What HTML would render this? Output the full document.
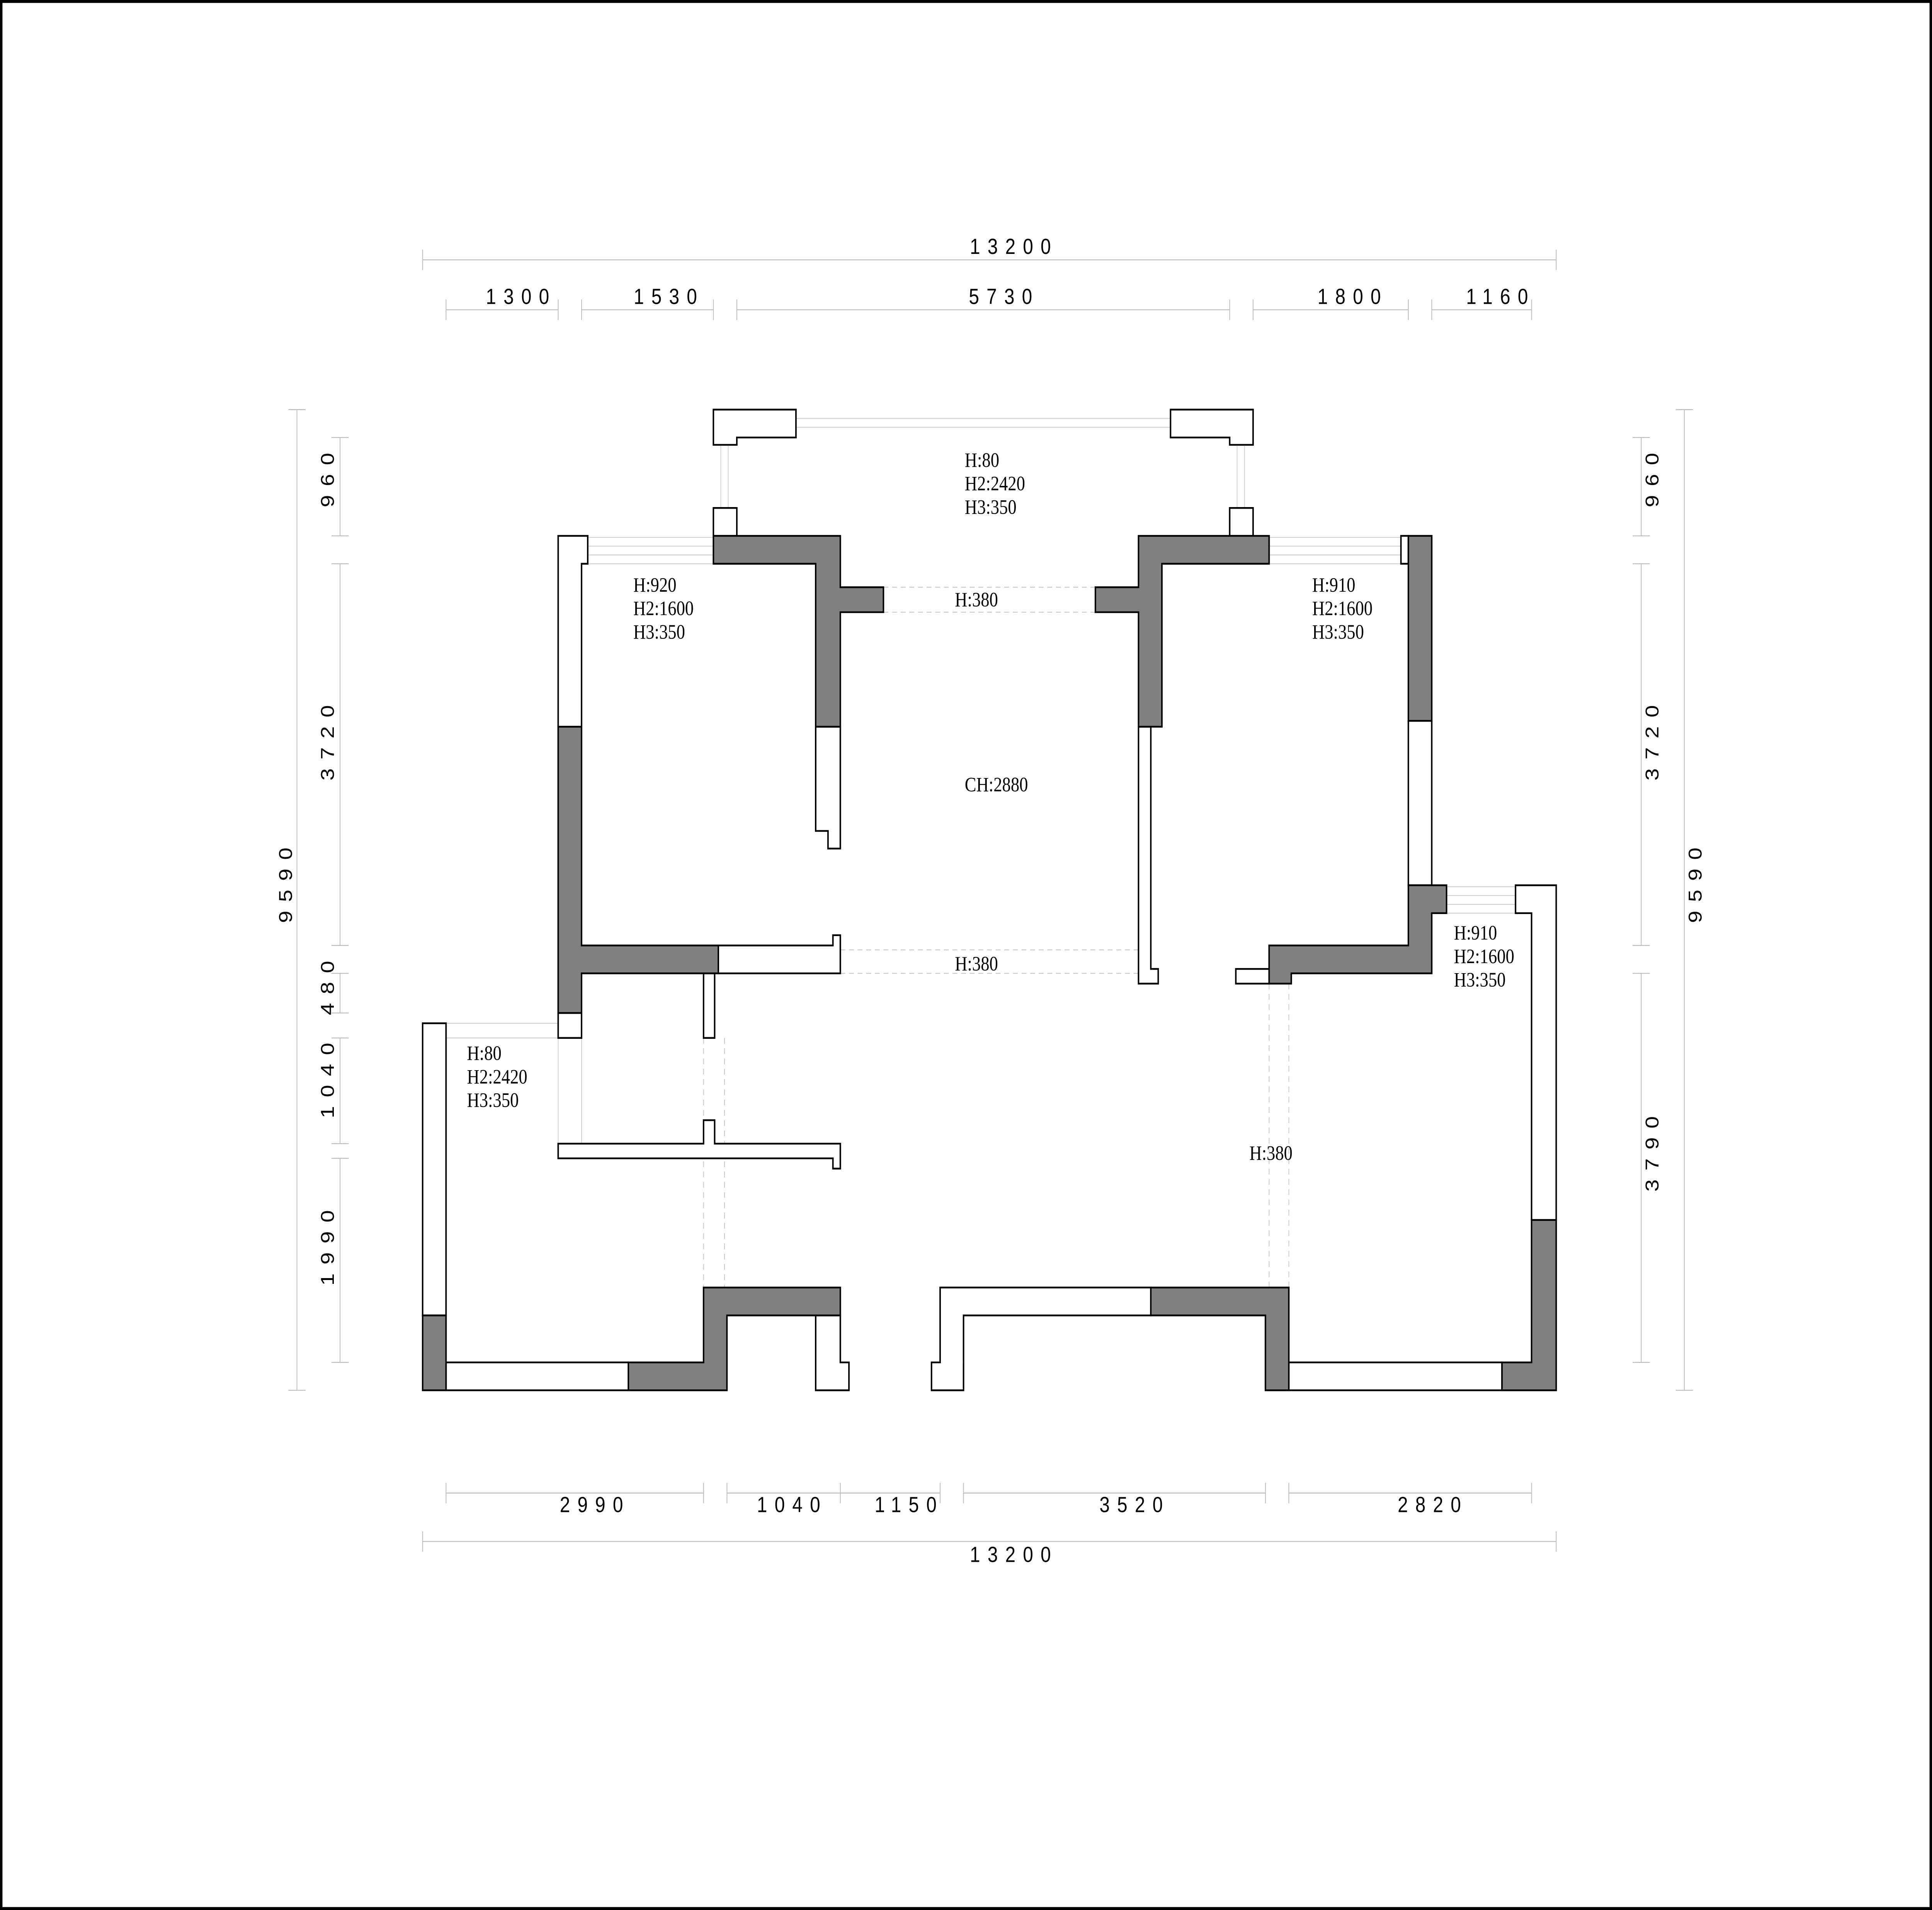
<!DOCTYPE html>
<html><head><meta charset="utf-8"><style>html,body{margin:0;padding:0;background:#fff;width:100%;height:100%;overflow:hidden}svg{display:block;width:100vw;height:100vh}</style></head>
<body>
<svg viewBox="0 0 1568 1301" preserveAspectRatio="none" xmlns="http://www.w3.org/2000/svg">
<rect x="0" y="0" width="1568" height="1301" fill="#fff"/>
<rect x="1" y="1" width="1566" height="1299" fill="none" stroke="#000" stroke-width="2"/>
<g stroke="#c8c8c8" stroke-width="0.5" fill="none">
<line x1="646" y1="285" x2="950" y2="285"/><line x1="646" y1="291" x2="950" y2="291"/>
<line x1="585" y1="303" x2="585" y2="346"/><line x1="591" y1="303" x2="591" y2="346"/>
<line x1="1004" y1="303" x2="1004" y2="346"/><line x1="1010" y1="303" x2="1010" y2="346"/>
<line x1="477" y1="366" x2="579" y2="366"/><line x1="477" y1="372" x2="579" y2="372"/><line x1="477" y1="378" x2="579" y2="378"/><line x1="477" y1="384" x2="579" y2="384"/>
<line x1="1030" y1="366" x2="1137" y2="366"/><line x1="1030" y1="372" x2="1137" y2="372"/><line x1="1030" y1="378" x2="1137" y2="378"/><line x1="1030" y1="384" x2="1137" y2="384"/>
<line x1="1174" y1="604" x2="1230" y2="604"/><line x1="1174" y1="610" x2="1230" y2="610"/><line x1="1174" y1="616" x2="1230" y2="616"/><line x1="1174" y1="622" x2="1230" y2="622"/>
<line x1="362" y1="697" x2="453" y2="697"/><line x1="362" y1="707" x2="453" y2="707"/>
<line x1="453" y1="707" x2="453" y2="779"/><line x1="472" y1="707" x2="472" y2="779"/>
</g>
<g stroke="#c8c8c8" stroke-width="0.6" fill="none" stroke-dasharray="4,3">
<line x1="717" y1="400" x2="889" y2="400"/><line x1="717" y1="417" x2="889" y2="417"/>
<line x1="682" y1="647" x2="924" y2="647"/><line x1="682" y1="663" x2="924" y2="663"/>
<line x1="571" y1="707" x2="571" y2="877"/><line x1="588" y1="707" x2="588" y2="877"/>
<line x1="1030" y1="670" x2="1030" y2="877"/><line x1="1046" y1="670" x2="1046" y2="877"/>
</g>
<g stroke="#000" stroke-width="1.2" stroke-linejoin="miter">
<g fill="#fff">
<polygon points="579,279 646,279 646,298 598,298 598,303 579,303"/>
<polygon points="950,279 1017,279 1017,303 998,303 998,298 950,298"/>
<rect x="579" y="346" width="19" height="19"/>
<rect x="998" y="346" width="19" height="19"/>
<polygon points="662,495 682,495 682,578 672,578 672,566 662,566"/>
<polygon points="453,365 477,365 477,384 472,384 472,495 453,495"/>
<rect x="453" y="690" width="19" height="17"/>
<polygon points="583,644 676,644 676,637 682,637 682,663 583,663"/>
<rect x="571" y="663" width="9" height="44"/>
<polygon points="453,779 571,779 571,763 580,763 580,779 682,779 682,796 676,796 676,789 453,789"/>
<rect x="343" y="697" width="19" height="199"/>
<rect x="362" y="928" width="148" height="19"/>
<polygon points="662,896 682,896 682,928 689,928 689,947 662,947"/>
<polygon points="756,928 763,928 763,877 934,877 934,896 782,896 782,947 756,947"/>
<rect x="1046" y="928" width="173" height="19"/>
<polygon points="1230,603 1263,603 1263,831 1243,831 1243,622 1230,622"/>
<polygon points="924,495 934,495 934,660 940,660 940,670 924,670"/>
<rect x="1137" y="365" width="6" height="19"/>
<rect x="1143" y="491" width="19" height="112"/>
<rect x="1003" y="660" width="27" height="10"/>
</g>
<g fill="#808080">
<polygon points="579,365 682,365 682,400 717,400 717,417 682,417 682,495 662,495 662,384 579,384"/>
<polygon points="453,495 472,495 472,644 583,644 583,663 472,663 472,690 453,690"/>
<rect x="343" y="896" width="19" height="51"/>
<polygon points="510,928 571,928 571,877 682,877 682,896 590,896 590,947 510,947"/>
<polygon points="934,877 1046,877 1046,947 1027,947 1027,896 934,896"/>
<polygon points="1219,928 1243,928 1243,831 1263,831 1263,947 1219,947"/>
<polygon points="924,365 1030,365 1030,384 943,384 943,495 924,495 924,417 889,417 889,400 924,400"/>
<rect x="1143" y="365" width="19" height="126"/>
<polygon points="1143,603 1174,603 1174,622 1162,622 1162,663 1048,663 1048,670 1030,670 1030,644 1143,644"/>
</g>
</g>
<g stroke="#bbb" stroke-width="0.6" fill="none">
<line x1="343" y1="177" x2="1263" y2="177"/><line x1="343" y1="170" x2="343" y2="184"/><line x1="1263" y1="170" x2="1263" y2="184"/>
<line x1="362" y1="211" x2="453" y2="211"/><line x1="472" y1="211" x2="579" y2="211"/><line x1="598" y1="211" x2="998" y2="211"/><line x1="1017" y1="211" x2="1143" y2="211"/><line x1="1162" y1="211" x2="1243" y2="211"/>
<line x1="362" y1="204" x2="362" y2="218"/><line x1="453" y1="204" x2="453" y2="218"/><line x1="472" y1="204" x2="472" y2="218"/><line x1="579" y1="204" x2="579" y2="218"/><line x1="598" y1="204" x2="598" y2="218"/><line x1="998" y1="204" x2="998" y2="218"/><line x1="1017" y1="204" x2="1017" y2="218"/><line x1="1143" y1="204" x2="1143" y2="218"/><line x1="1162" y1="204" x2="1162" y2="218"/><line x1="1243" y1="204" x2="1243" y2="218"/>
<line x1="362" y1="1017" x2="571" y2="1017"/><line x1="590" y1="1017" x2="682" y2="1017"/><line x1="682" y1="1017" x2="763" y2="1017"/><line x1="782" y1="1017" x2="1027" y2="1017"/><line x1="1046" y1="1017" x2="1243" y2="1017"/>
<line x1="362" y1="1010" x2="362" y2="1024"/><line x1="571" y1="1010" x2="571" y2="1024"/><line x1="590" y1="1010" x2="590" y2="1024"/><line x1="682" y1="1010" x2="682" y2="1024"/><line x1="763" y1="1010" x2="763" y2="1024"/><line x1="782" y1="1010" x2="782" y2="1024"/><line x1="1027" y1="1010" x2="1027" y2="1024"/><line x1="1046" y1="1010" x2="1046" y2="1024"/><line x1="1243" y1="1010" x2="1243" y2="1024"/>
<line x1="343" y1="1050" x2="1263" y2="1050"/><line x1="343" y1="1043" x2="343" y2="1057"/><line x1="1263" y1="1043" x2="1263" y2="1057"/>
<line x1="241" y1="279" x2="241" y2="947"/><line x1="234" y1="279" x2="248" y2="279"/><line x1="234" y1="947" x2="248" y2="947"/>
<line x1="276" y1="298" x2="276" y2="365"/><line x1="276" y1="384" x2="276" y2="644"/><line x1="276" y1="663" x2="276" y2="690"/><line x1="276" y1="707" x2="276" y2="779"/><line x1="276" y1="789" x2="276" y2="928"/>
<line x1="269" y1="298" x2="283" y2="298"/><line x1="269" y1="365" x2="283" y2="365"/><line x1="269" y1="384" x2="283" y2="384"/><line x1="269" y1="644" x2="283" y2="644"/><line x1="269" y1="663" x2="283" y2="663"/><line x1="269" y1="690" x2="283" y2="690"/><line x1="269" y1="707" x2="283" y2="707"/><line x1="269" y1="779" x2="283" y2="779"/><line x1="269" y1="789" x2="283" y2="789"/><line x1="269" y1="928" x2="283" y2="928"/>
<line x1="1367" y1="279" x2="1367" y2="947"/><line x1="1360" y1="279" x2="1374" y2="279"/><line x1="1360" y1="947" x2="1374" y2="947"/>
<line x1="1332" y1="298" x2="1332" y2="365"/><line x1="1332" y1="384" x2="1332" y2="644"/><line x1="1332" y1="663" x2="1332" y2="928"/>
<line x1="1325" y1="298" x2="1339" y2="298"/><line x1="1325" y1="365" x2="1339" y2="365"/><line x1="1325" y1="384" x2="1339" y2="384"/><line x1="1325" y1="644" x2="1339" y2="644"/><line x1="1325" y1="663" x2="1339" y2="663"/><line x1="1325" y1="928" x2="1339" y2="928"/>
</g>
<g font-family="'Liberation Sans', sans-serif" font-size="15" fill="#000" text-anchor="middle" letter-spacing="6">
<text x="823" y="173">13200</text>
<text x="423" y="207">1300</text>
<text x="543" y="207">1530</text>
<text x="815" y="207">5730</text>
<text x="1098" y="207">1800</text>
<text x="1218" y="207">1160</text>
<text x="483" y="1030">2990</text>
<text x="643" y="1030">1040</text>
<text x="738" y="1030">1150</text>
<text x="921" y="1030">3520</text>
<text x="1163" y="1030">2820</text>
<text x="823" y="1064">13200</text>
<text transform="translate(237,600) rotate(-90)">9590</text>
<text transform="translate(271,324) rotate(-90)">960</text>
<text transform="translate(271,503) rotate(-90)">3720</text>
<text transform="translate(271,670) rotate(-90)">480</text>
<text transform="translate(271,733) rotate(-90)">1040</text>
<text transform="translate(271,847) rotate(-90)">1990</text>
<text transform="translate(1381,600) rotate(-90)">9590</text>
<text transform="translate(1346,324) rotate(-90)">960</text>
<text transform="translate(1346,503) rotate(-90)">3720</text>
<text transform="translate(1346,783) rotate(-90)">3790</text>
</g>
<g font-family="'Liberation Serif', serif" font-size="14" fill="#000">
<text x="783" y="318">H:80</text><text x="783" y="334">H2:2420</text><text x="783" y="350">H3:350</text>
<text x="514" y="403">H:920</text><text x="514" y="419">H2:1600</text><text x="514" y="435">H3:350</text>
<text x="1065" y="403">H:910</text><text x="1065" y="419">H2:1600</text><text x="1065" y="435">H3:350</text>
<text x="1180" y="640">H:910</text><text x="1180" y="656">H2:1600</text><text x="1180" y="672">H3:350</text>
<text x="379" y="722">H:80</text><text x="379" y="738">H2:2420</text><text x="379" y="754">H3:350</text>
<text x="775" y="413">H:380</text>
<text x="775" y="661">H:380</text>
<text x="1014" y="790">H:380</text>
<text x="783" y="539">CH:2880</text>
</g>
</svg>
</body></html>
